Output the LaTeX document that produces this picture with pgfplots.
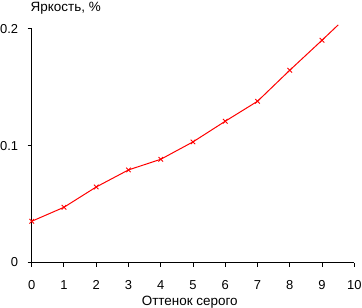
\documentclass[border=0pt]{standalone}
\usepackage{fontspec}
\setmainfont{Liberation Sans}
\usepackage{pgfplots}
\pgfplotsset{compat=1.18}
\begin{document}
\fontsize{13pt}{16pt}\selectfont
\begin{tikzpicture}
\useasboundingbox (-31.7bp,-45.5bp) rectangle (330.3bp,262.5bp);
\begin{axis}[
  at={(0,0)}, anchor=south west,
  scale only axis,
  width=322.6bp, height=233.5bp,
  xmin=0, xmax=10, ymin=0, ymax=0.2,
  clip=false,
  axis x line*=bottom, axis y line*=left,
  axis line style={black, line width=1bp, -},
  xtick={0,1,...,10}, ytick={0,0.1,0.2},
  yticklabels={0,0.1,0.2},
  tick align=outside,
  major tick length=4bp,
  tick style={black, line width=1bp},
  /pgf/number format/assume math mode=true,
  ticklabel style={font=\fontsize{13pt}{16pt}\selectfont},
  xticklabel style={anchor=base, yshift=-23bp},
  yticklabel style={anchor=east, xshift=-5bp},
  xlabel={Оттенок серого},
  xlabel style={at={(axis description cs:0.49,0)}, anchor=base, yshift=-43bp, font=\fontsize{13.5pt}{16pt}\selectfont},
  ylabel={Яркость, \%},
  ylabel style={rotate=-90, at={(axis description cs:0,1)}, anchor=base west, xshift=-5.5bp, yshift=17bp, font=\fontsize{13.5pt}{16pt}\selectfont},
]
\addplot[red, line width=1bp, mark=x, mark size=3.2bp, mark indices={1,2,3,4,5,6,7,8,9,10}, mark options={solid, line width=0.9bp}]
coordinates {
(0,0.0353) (1,0.0473) (2,0.0647) (3,0.0793) (4,0.0884) (5,0.1033)
(6,0.1210) (7,0.1381) (8,0.1647) (9,0.1904) (9.50,0.2035)
};
\end{axis}
\end{tikzpicture}
\end{document}
